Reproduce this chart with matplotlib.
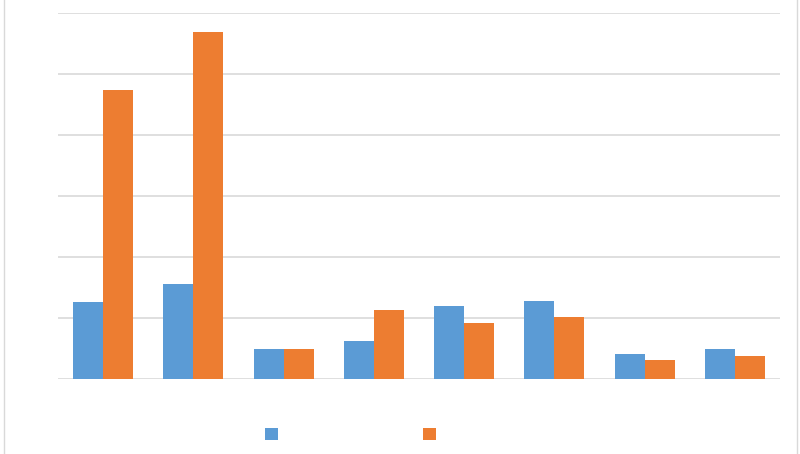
"""
Grouped bar chart, two series, no labels (Excel style)
"""

import matplotlib
matplotlib.use('Agg')
import matplotlib.pyplot as plt
from matplotlib.lines import Line2D
import numpy as np

categories = ['1', '2', '3', '4', '5', '6', '7', '8']
series_a = [1.26, 1.56, 0.50, 0.62, 1.20, 1.29, 0.41, 0.50]
series_b = [4.75, 5.70, 0.49, 1.14, 0.92, 1.02, 0.32, 0.38]

blue = '#5B9BD5'
orange = '#ED7D31'
grid = '#D9D9D9'

fig = plt.figure(figsize=(8, 4.54), dpi=100)
ax = fig.add_axes([0.0725, 0.1645, 0.9025, 0.8062])

x = np.arange(len(categories))
w = 0.333
ax.bar(x - w / 2, series_a, w, color=blue, label=' ', zorder=3)
ax.bar(x + w / 2, series_b, w, color=orange, label=' ', zorder=3)

ax.set_xlim(-0.5, len(categories) - 0.5)
ax.set_ylim(0, 6)
ax.set_yticks(range(0, 7))
ax.yaxis.grid(True, color=grid, linewidth=1.2, zorder=0)
ax.set_axisbelow(True)
ax.set_xticks([])
ax.tick_params(left=False, labelleft=False)
for s in ax.spines.values():
    s.set_visible(False)

# legend markers without text
ax.legend(loc='center', bbox_to_anchor=(0.412, -0.151), ncol=2, frameon=False,
          handlelength=0.9, handleheight=0.9, handletextpad=0.4,
          columnspacing=9.73, fontsize=10)

# faint chart border at the sides
fig.add_artist(Line2D([0.005, 0.005], [0, 1], color=grid, linewidth=1))
fig.add_artist(Line2D([0.996, 0.996], [0, 1], color=grid, linewidth=1))

fig.savefig('out.png', dpi=100)
